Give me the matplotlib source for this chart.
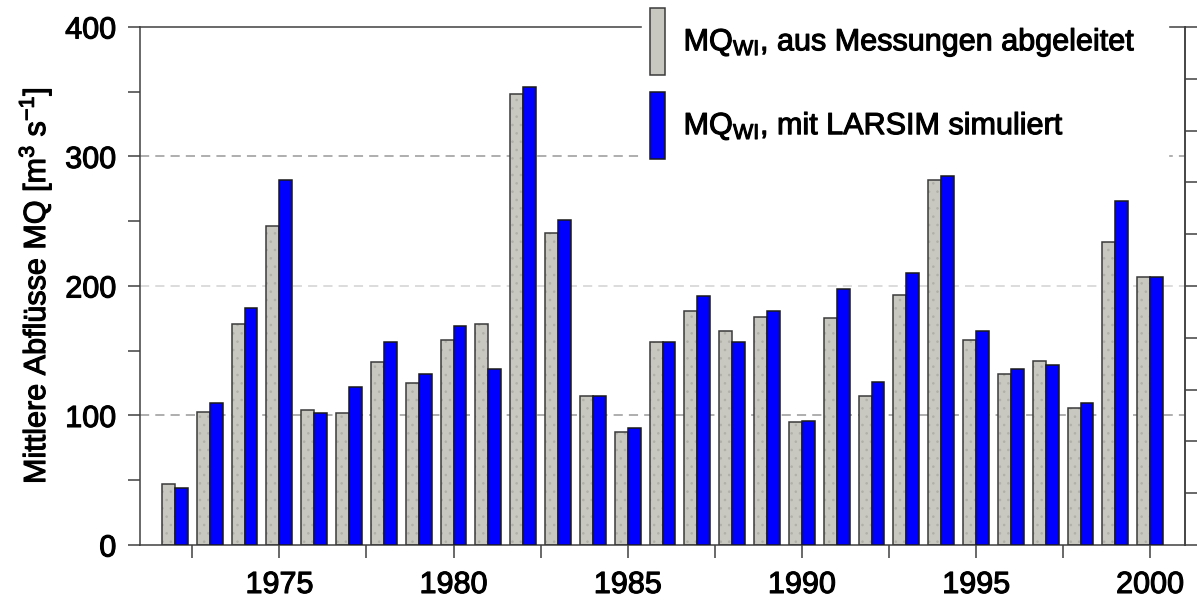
import matplotlib
matplotlib.use("Agg")
import matplotlib.pyplot as plt
import matplotlib.patheffects as pe
import numpy as np

plt.rcParams['font.family'] = ['Liberation Sans', 'DejaVu Sans']
plt.rcParams['mathtext.default'] = 'regular'
plt.rcParams['hatch.linewidth'] = 0.6

years = np.arange(1972, 2001)
mq_gemessen = [47, 103, 171, 246, 104, 102, 141, 125, 158, 171,
               348, 241, 115, 87, 157, 181, 165, 176, 95, 175,
               115, 193, 282, 158, 132, 142, 106, 234, 207]
mq_larsim = [44, 110, 183, 282, 102, 122, 157, 132, 169, 136,
             354, 251, 115, 90, 157, 192, 157, 181, 96, 198,
             126, 210, 285, 165, 136, 139, 110, 266, 207]

label_gem = 'MQ$_{WI}$, aus Messungen abgeleitet'
label_sim = 'MQ$_{WI}$, mit LARSIM simuliert'

w = 0.37
fs = 22
heavy = [pe.withStroke(linewidth=0.8, foreground='black')]

fig = plt.figure(figsize=(11.97, 6.02), dpi=100)
ax = fig.add_axes([0.117, 0.0947, 0.873, 0.8605])

# gray bars with a faint dotted texture
ax.bar(years - w/2, mq_gemessen, width=w, color='#c8c8c0', edgecolor='#b0b0a8',
       linewidth=0, hatch='..', zorder=2)
ax.bar(years - w/2, mq_gemessen, width=w, color='none', edgecolor='#3a3a3a',
       linewidth=1.1, zorder=3)
ax.bar(years + w/2, mq_larsim, width=w, color='#0000ff', edgecolor='#1a1a1a',
       linewidth=1.1, zorder=3)

for y, c in [(100, '#999999'), (200, '#d2d2d2'), (300, '#999999')]:
    ax.axhline(y, color=c, linestyle=(0, (6, 4)), linewidth=1.1, zorder=1)

ax.set_xlim(1971, 2001)
ax.set_ylim(0, 400)
ax.set_xticks(np.arange(1975, 2001, 5))
ax.set_xticks(np.arange(1972.5, 2000, 5), minor=True)
ax.set_yticks(np.arange(0, 401, 100))
ax.set_yticks(np.arange(50, 400, 100), minor=True)
ax.tick_params(axis='both', which='both', direction='out', length=9, width=1.1,
               color='#404040', labelsize=fs)
ax.tick_params(axis='x', pad=9)
ax.tick_params(axis='y', pad=8)
for s in ax.spines.values():
    s.set_color('#404040')
    s.set_linewidth(1.1)

ax.set_ylabel('Mittlere Abflüsse MQ [m$^3$ s$^{-1}$]', fontsize=fs, labelpad=8,
              path_effects=heavy)
for t in ax.get_xticklabels() + ax.get_yticklabels():
    t.set_path_effects(heavy)

ax2 = ax.twinx()
ax2.set_ylim(0, 400)
ax2.set_yticks(np.arange(0, 401, 40))
ax2.tick_params(axis='y', direction='out', length=9, width=1.1, color='#404040',
                labelright=False)
ax2.spines['right'].set_color('#404040')
ax2.spines['right'].set_linewidth(1.1)
for s in ['left', 'top', 'bottom']:
    ax2.spines[s].set_visible(False)

handles = [
    matplotlib.patches.Patch(facecolor='#c8c8c0', edgecolor='#3a3a3a', linewidth=1.1),
    matplotlib.patches.Patch(facecolor='#0000ff', edgecolor='#1a1a1a', linewidth=1.1),
]
leg = ax2.legend(handles, [label_gem, label_sim], loc='upper left',
                 bbox_to_anchor=(642/1197, 0, (1168-642)/1197, 1.0),
                 bbox_transform=fig.transFigure, mode='expand',
                 fontsize=fs, handlelength=0.5, handleheight=3.0,
                 labelspacing=0.55, handletextpad=0.6, borderpad=0.26,
                 borderaxespad=0, frameon=True, fancybox=False,
                 facecolor='white', edgecolor='white', framealpha=1)
leg.set_zorder(10)
for t in leg.get_texts():
    t.set_path_effects(heavy)

fig.savefig('out.png', dpi=100)
